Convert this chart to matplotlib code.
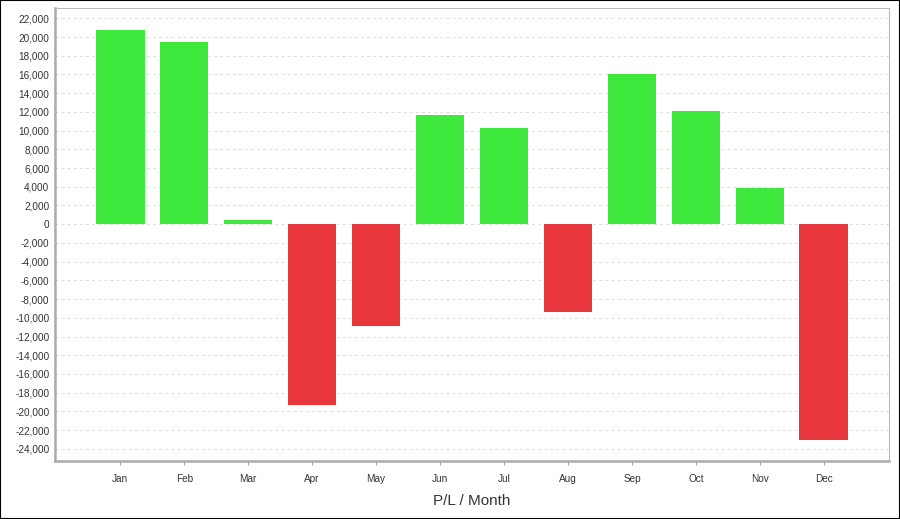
import matplotlib
matplotlib.use("Agg")
import matplotlib.pyplot as plt
from matplotlib.ticker import FuncFormatter, MultipleLocator
from matplotlib.patches import Rectangle

months = ["Jan", "Feb", "Mar", "Apr", "May", "Jun", "Jul", "Aug", "Sep", "Oct", "Nov", "Dec"]
pnl = [20800, 19500, 500, -19300, -10900, 11700, 10250, -9400, 16100, 12050, 3850, -23050]

plt.rcParams['font.family'] = ['Liberation Sans', 'DejaVu Sans']

fig = plt.figure(figsize=(9, 5.19), dpi=100)
ax = fig.add_axes([55/900, 1 - 461/519, (889-55)/900, (461-8)/519])

colors = ['#3ee83c' if v >= 0 else '#e8373c' for v in pnl]
x = list(range(len(months)))
ax.bar(x, pnl, width=0.76, color=colors, zorder=3)

ax.set_xlim(-1.02, 12.02)
ax.set_ylim(-25300, 23100)
ax.yaxis.set_major_locator(MultipleLocator(2000))
ax.yaxis.set_major_formatter(FuncFormatter(lambda v, p: f"{int(v):,}"))
ax.set_xticks(x)
ax.set_xticklabels(months)
ax.tick_params(axis='y', length=0, labelsize=7.2, pad=4, colors='#333333')
ax.tick_params(axis='x', length=3, color='#aaaaaa', labelsize=7.2, pad=6, labelcolor='#333333')
ax.grid(axis='y', linestyle=(0, (2.5, 3)), color='#dddddd', linewidth=0.8, zorder=0)

for s in ['left', 'bottom']:
    ax.spines[s].set_color('#aaaaaa')
    ax.spines[s].set_linewidth(1.8)
for s in ['top', 'right']:
    ax.spines[s].set_color('#bbbbbb')
    ax.spines[s].set_linewidth(0.8)

fig.text((55 + 889) / 2 / 900, 1 - 501 / 519, "P/L / Month", ha='center', va='center', fontsize=11, color='#333333')

fig.patches.append(Rectangle((0, 0), 1, 1, transform=fig.transFigure, fill=False,
                             edgecolor='black', linewidth=1.5))

fig.savefig("out.png", dpi=100)
